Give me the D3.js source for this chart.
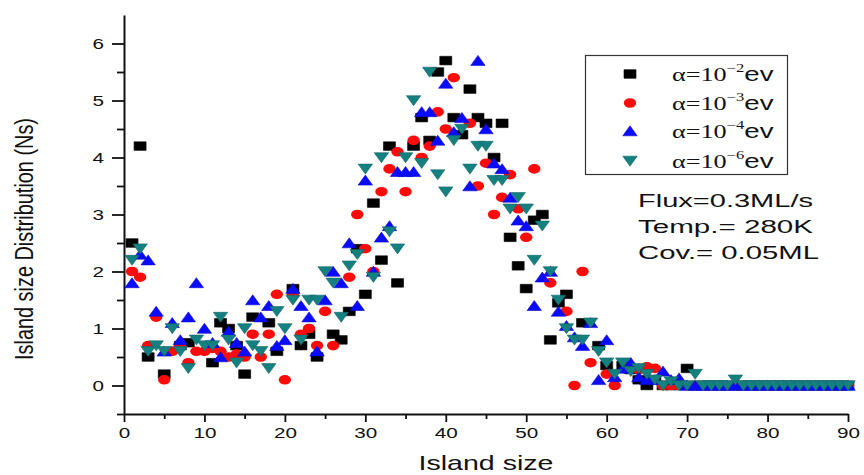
<!DOCTYPE html>
<html>
<head>
<meta charset="utf-8">
<script src="https://cdn.jsdelivr.net/npm/d3@7"></script>
<style>
  body { margin: 0; background: #fff; }
  text { font-family: Arial, "Liberation Sans", sans-serif; fill: #111; }
</style>
</head>
<body>
<svg id="chart" width="864" height="475"></svg>
<script>
// Axis ticks
const xTicks = [0, 10, 20, 30, 40, 50, 60, 70, 80, 90];
const xMinorTicks = [5, 15, 25, 35, 45, 55, 65, 75, 85];
const yTicks = [0, 1, 2, 3, 4, 5, 6];
const yMinorTicks = [-0.5, 0.5, 1.5, 2.5, 3.5, 4.5, 5.5];

// Exponents of alpha for each series (legend labels)
const alphaExponents = ["−2", "−3", "−4", "−6"];

// alpha = 10^-2 eV
const sizeA2 = [1,2,3,5,7,8,11,12,13,14,15,16,18,19,21,22,23,24,26,27,28,29,30,31,32,33,34,36,37,38,39,40,41,42,43,44,45,46,47,48,49,50,51,52,53,54,55,57,59,60,62,63,64,65,66,67,68,69,70,71,72,73,74,75,76,77,78,79,80,81,82,83,84,85,86,87,88,89,90];
const nsA2   = [2.5,4.2,0.5,0.2,0.7,0.75,0.4,1.1,1.0,0.7,0.2,1.2,1.1,0.6,1.7,0.7,0.9,0.5,0.9,0.8,1.3,2.4,1.6,3.2,2.2,4.2,1.8,4.2,4.7,4.3,5.5,5.7,4.7,4.4,5.2,4.7,4.6,4.0,4.6,2.6,2.1,1.7,2.9,3.0,0.8,1.45,1.6,1.1,0.7,0.35,0.35,0.28,0.1,0,0.1,0,0,0,0.3,0,0,0,0,0,0,0,0,0,0,0,0,0,0,0,0,0,0,0,0];

// alpha = 10^-3 eV
const sizeA3 = [1,2,3,4,5,6,7,8,9,10,11,12,13,14,15,16,17,18,19,20,21,22,23,24,25,26,28,29,30,31,32,33,34,35,36,37,38,39,40,41,43,44,45,46,47,48,49,50,51,53,55,56,57,58,60,61,64,65,66,67,68,69,70,71,72,73,74,75,76,77,78,79,80,81,82,83,84,85,86,87,88,89,90];
const nsA3   = [2.0,1.9,0.7,1.2,0.1,0.6,0.7,0.4,0.6,0.6,0.65,0.6,0.5,0.55,0.5,0.9,0.5,0.9,1.6,0.1,1.6,0.9,1.0,0.7,1.3,0.7,1.9,3.0,2.4,2.0,3.4,3.8,4.1,3.4,4.3,4.0,4.2,4.8,4.5,5.4,4.6,3.5,3.9,3.0,3.3,3.7,3.1,2.6,3.8,1.8,1.3,0.0,2.0,0.4,0.2,0.0,0.28,0.33,0.3,0,0,0,0,0,0,0,0,0,0,0,0,0,0,0,0,0,0,0,0,0,0,0,0];

// alpha = 10^-4 eV
const sizeA4 = [1,2,3,4,5,6,7,8,9,10,11,12,13,14,15,16,17,18,19,20,21,22,23,24,25,26,27,28,29,30,31,32,33,34,35,36,37,38,39,40,41,42,43,44,45,46,47,48,49,50,51,52,53,54,55,56,57,58,59,60,61,62,63,64,65,66,67,68,69,70,71,72,73,74,75,76,77,78,79,80,81,82,83,84,85,86,87,88,89,90];
const nsA4   = [1.8,2.3,2.2,1.3,0.6,1.1,0.8,1.2,1.8,1.0,0.75,0.5,0.95,0.75,0.6,1.5,1.2,1.4,0.7,0.8,1.7,1.4,1.2,0.6,1.5,2.0,1.8,2.5,1.4,3.6,2.0,2.6,2.8,3.75,3.75,3.75,4.8,4.8,4.3,5.3,4.45,4.7,3.5,5.7,4.5,3.9,3.8,3.3,2.9,2.8,1.4,1.9,2.0,1.3,1.05,0.85,0.7,1.1,0.1,0.8,0.15,0.3,0.4,0.15,0.1,0.1,0.25,0.1,0.13,0,0,0,0,0,0,0,0,0,0,0,0,0,0,0,0,0,0,0,0,0];

// alpha = 10^-6 eV
const sizeA6 = [1,2,3,4,5,6,7,8,9,10,11,12,13,14,15,16,17,18,19,20,21,22,23,24,25,26,27,28,29,30,31,32,33,34,35,36,37,38,39,40,41,42,43,44,45,46,47,48,49,50,51,52,53,54,55,56,57,58,59,60,61,62,63,64,65,66,67,68,69,70,71,72,73,74,75,76,77,78,79,80,81,82,83,84,85,86,87,88,89,90];
const nsA6   = [2.2,2.4,0.6,0.7,0.6,1.0,0.6,0.3,0.8,0.7,0.7,1.2,0.8,0.4,1.0,0.7,0.6,0.3,1.3,1.0,1.5,0.8,1.5,1.5,2.0,1.8,1.2,2.1,2.3,3.8,1.9,4.0,2.7,2.4,4.0,5.0,3.9,5.5,3.7,3.4,4.3,4.5,3.8,4.2,4.2,3.6,3.6,3.1,3.3,3.1,2.2,2.8,2.0,1.5,1.0,0.8,0.8,1.1,0.6,0.4,0.2,0.4,0.25,0.3,0.2,0.1,0,0.07,0,0,0.2,0,0,0,0,0.1,0,0,0,0,0,0,0,0,0,0,0,0,0,0];

const seriesColors = ["#000000", "#ff0a0a", "#0a0aff", "#148080"];
const seriesShapes = ["square", "circle", "up", "down"];

const svg = d3.select("#chart");

const x = d3.scaleLinear().domain([0, 90]).range([124, 848]);
const y = d3.scaleLinear().domain([-0.5, 6.5]).range([414, 15]);

// marker geometry (slightly wider than tall)
function markerPath(shape) {
  if (shape === "square") return "M-6,-4.3h12v8.6h-12Z";
  if (shape === "up") return "M0,-5.2L7.2,4.8L-7.2,4.8Z";
  if (shape === "down") return "M0,5.2L7.2,-4.8L-7.2,-4.8Z";
  return null;
}
function drawMarker(g, shape, color) {
  if (shape === "circle") {
    g.append("ellipse").attr("rx", 6.2).attr("ry", 4.8).attr("fill", color);
  } else {
    g.append("path").attr("d", markerPath(shape)).attr("fill", color)
      .attr("stroke", d3.color(color).darker(0.6)).attr("stroke-width", 0.6);
  }
}

// ---- axes ----
const xAxis = svg.append("g").attr("transform", `translate(0,${y(-0.5)})`)
  .call(d3.axisBottom(x).tickValues(xTicks).tickFormat(d3.format("d"))
    .tickSize(8).tickSizeOuter(0).tickPadding(4));
svg.append("g").attr("transform", `translate(0,${y(-0.5)})`)
  .call(d3.axisBottom(x).tickValues(xMinorTicks).tickSize(5).tickFormat(""))
  .call(g => g.select(".domain").remove());

const yAxis = svg.append("g").attr("transform", `translate(${x(0)},0)`)
  .call(d3.axisLeft(y).tickValues(yTicks).tickFormat(d3.format("d"))
    .tickSize(12).tickSizeOuter(0).tickPadding(8));
svg.append("g").attr("transform", `translate(${x(0)},0)`)
  .call(d3.axisLeft(y).tickValues(yMinorTicks).tickSize(7).tickFormat(""))
  .call(g => g.select(".domain").remove());

svg.selectAll(".domain").attr("stroke", "#111").attr("stroke-width", 2);
svg.selectAll(".tick line").attr("stroke", "#111").attr("stroke-width", 1.8);
svg.selectAll(".tick text")
  .attr("font-size", 15.5)
  .attr("font-family", "Arial, 'Liberation Sans', sans-serif")
  .attr("fill", "#111")
  .attr("textLength", function () { return this.textContent.length * 11.5; })
  .attr("lengthAdjust", "spacingAndGlyphs");
xAxis.selectAll(".tick text").attr("dy", null).attr("y", 24);

// axis titles
svg.append("text")
  .attr("x", x(45)).attr("y", 470)
  .attr("text-anchor", "middle")
  .attr("font-size", 21)
  .attr("textLength", 135).attr("lengthAdjust", "spacingAndGlyphs")
  .text("Island size");

svg.append("text")
  .attr("transform", "translate(33,239) rotate(-90)")
  .attr("text-anchor", "middle")
  .attr("font-size", 26)
  .attr("textLength", 242).attr("lengthAdjust", "spacingAndGlyphs")
  .text("Island size Distribution (Ns)");

// ---- data ----
const series = [
  { sizes: sizeA2, ns: nsA2 },
  { sizes: sizeA3, ns: nsA3 },
  { sizes: sizeA4, ns: nsA4 },
  { sizes: sizeA6, ns: nsA6 }
];

series.forEach((s, i) => {
  const pts = s.sizes.map((v, k) => ({ x: v, y: s.ns[k] }));
  const layer = svg.append("g");
  layer.selectAll("g.pt").data(pts).join("g")
    .attr("class", "pt")
    .attr("transform", d => `translate(${x(d.x)},${y(d.y)})`)
    .each(function () { drawMarker(d3.select(this), seriesShapes[i], seriesColors[i]); });
});

// ---- legend ----
const legend = svg.append("g");
legend.append("rect")
  .attr("x", 585.5).attr("y", 55.5).attr("width", 202).attr("height", 119)
  .attr("fill", "#fff").attr("stroke", "#333").attr("stroke-width", 1.2);
const rowY = [74, 103, 131, 161];
alphaExponents.forEach((e, i) => {
  const m = legend.append("g").attr("transform", `translate(630,${rowY[i]})`);
  drawMarker(m, seriesShapes[i], seriesColors[i]);
  const t = legend.append("g")
    .attr("transform", `translate(672,${rowY[i] + 7}) scale(1.38,1)`)
    .append("text");
  t.append("tspan").attr("font-family", "'Liberation Serif', 'Times New Roman', serif")
    .attr("font-size", 19).text("α=10");
  t.append("tspan").attr("font-family", "'Liberation Serif', 'Times New Roman', serif")
    .attr("font-size", 12).attr("dy", -9).text(e);
  t.append("tspan").attr("font-family", "Arial, 'Liberation Sans', sans-serif")
    .attr("font-size", 20).attr("dy", 9).text("ev");
});

// ---- simulation conditions ----
const notes = ["Flux=0.3ML/s", "Temp.= 280K", "Cov.= 0.05ML"];
const noteLen = [175, 175, 181];
notes.forEach((n, i) => {
  svg.append("text")
    .attr("x", 638).attr("y", 207 + i * 26)
    .attr("font-size", 18)
    .attr("textLength", noteLen[i]).attr("lengthAdjust", "spacingAndGlyphs")
    .text(n);
});
</script>
</body>
</html>
